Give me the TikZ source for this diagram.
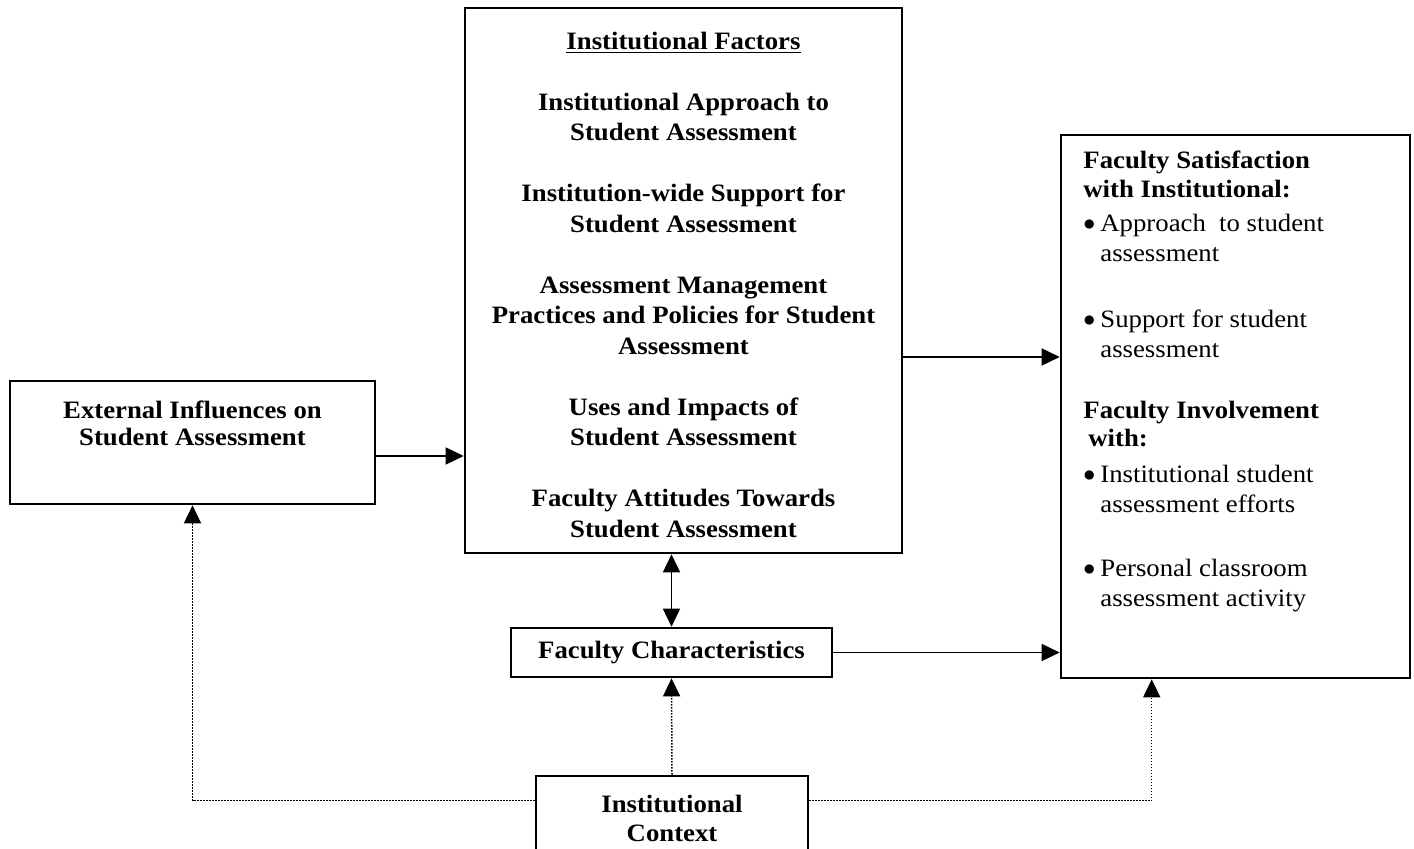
\documentclass[tikz,border=0pt]{standalone}
\usepackage{fontspec}
\setmainfont[FakeStretch=1.07]{Liberation Serif}
\usetikzlibrary{arrows.meta}
\tikzset{
  factorbox/.style={draw, line width=1.3pt, inner sep=0pt, align=center,
                    font=\bfseries\fontsize{12.5}{15.25}\selectfont},
  boxtext/.style={inner sep=0pt, align=center,
                  font=\bfseries\fontsize{12.5}{13.5}\selectfont},
  outcometext/.style={inner sep=0pt, align=left, anchor=north west,
                      font=\fontsize{12.5}{15}\selectfont},
  effect/.style={draw, line width=0.8pt, -{Triangle[length=9pt,width=8.5pt]}},
  mutual/.style={effect, {Triangle[length=9pt,width=8.5pt]}-{Triangle[length=9pt,width=8.5pt]}},
  context/.style={draw, line width=0.75pt, dash pattern=on 0.75pt off 0.75pt,
                  -{Triangle[length=9pt,width=8.5pt]}}
}
\newcommand{\outitem}[1]{\makebox[8.5pt][l]{\raisebox{0.3pt}{$\bullet$}}#1}
\newcommand{\outcont}[1]{\hspace*{8.5pt}#1}

\begin{document}
\begin{tikzpicture}[x=0.5pt, y=-0.5pt]
  \useasboundingbox (0,0) rectangle (1414,849);
  \clip (0,0) rectangle (1414,849);
  % boxes
  \node[factorbox, minimum width=182.5pt, minimum height=61.5pt] (ext) at (192.5,442.5) {};
  \node[boxtext] (exttext) at (192.5,423.5) {External Influences on\\Student Assessment};
  \node[factorbox, minimum width=218.5pt, minimum height=272.5pt] (inst) at (683.5,280.5) {};
  \node[boxtext, font=\bfseries\fontsize{12.5}{15.25}\selectfont] (insttext) at (683.5,284.5)
    {\underline{Institutional Factors}\\[15.25pt]
     Institutional Approach to\\Student Assessment\\[15.25pt]
     Institution-wide Support for\\Student Assessment\\[15.25pt]
     Assessment Management\\Practices and Policies for Student\\Assessment\\[15.25pt]
     Uses and Impacts of\\Student Assessment\\[15.25pt]
     Faculty Attitudes Towards\\Student Assessment};
  \node[factorbox, minimum width=160.5pt, minimum height=24.5pt] (fc) at (671.5,652.5)
    {Faculty Characteristics};
  \node[factorbox, minimum width=174.5pt, minimum height=271.5pt] (out) at (1235.5,406.5) {};
  \node[outcometext] (outtext) at (1083,150)
    {\textbf{Faculty Satisfaction}\\[-0.5pt]
     \textbf{with Institutional:}\\[2pt]
     \outitem{Approach\ \ to student}\\
     \outcont{assessment}\\[18pt]
     \outitem{Support for student}\\
     \outcont{assessment}\\[15.5pt]
     \textbf{Faculty Involvement}\\[-1pt]
     \textbf{\hspace*{2.5pt}with:}\\[3pt]
     \outitem{Institutional student}\\
     \outcont{assessment efforts}\\[17pt]
     \outitem{Personal classroom}\\
     \outcont{assessment activity}};
  \node[factorbox, font=\bfseries\fontsize{12.5}{14.5}\selectfont,
        minimum width=136pt, minimum height=42.5pt] (ctx) at (672,818.5)
    {Institutional\\Context};
  % influences
  \coordinate (extout) at ([yshift=-6.75pt]ext.east);
  \draw[effect] (extout) -- (extout -| inst.west);
  \coordinate (instout) at ([yshift=-38.25pt]inst.east);
  \draw[effect] (instout) -- (instout -| out.west);
  \draw[mutual] (fc.north) -- (fc.north |- inst.south);
  \draw[effect] (fc.east) -- (fc.east -| out.west);
  % context links
  \coordinate (ctxleft) at ([yshift=-13pt]ctx.north west);
  \coordinate (ctxright) at ([yshift=-13pt]ctx.north east);
  \coordinate (outin) at ([xshift=46pt]out.south west);
  \draw[context] (ctxleft) -| (ext.south);
  \draw[context] (ctx.north) -- (fc.south);
  \draw[context] (ctxright) -| (outin);
\end{tikzpicture}
\end{document}
